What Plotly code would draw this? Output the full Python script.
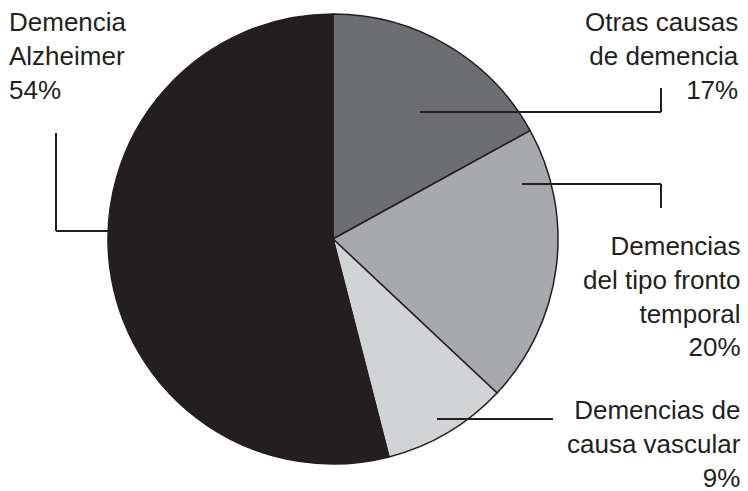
import plotly.graph_objects as go

labels = ["Otras causas<br>de demencia", "Demencias<br>del tipo fronto<br>temporal",
          "Demencias de<br>causa vascular", "Demencia<br>Alzheimer"]
values = [17, 20, 9, 54]
colors = ["#6d6e71", "#a7a9ac", "#d1d3d4", "#231f20"]

W, H = 748, 491
def px(x):
    return x / W
def py(y):
    return 1 - y / H

fig = go.Figure(go.Pie(
    labels=labels, values=values, sort=False, direction="clockwise", rotation=0,
    marker=dict(colors=colors, line=dict(color="#231f20", width=1.5)),
    textinfo="none", hoverinfo="label+percent", showlegend=False,
    domain=dict(x=[px(108), px(558)], y=[py(464), py(14)]),
))

line = dict(color="#231f20", width=2)
segs = [
    # Alzheimer
    (56, 133, 56, 231), (56, 231, 130, 231),
    # Otras
    (420, 112, 661, 112), (661, 112, 661, 88),
    # Fronto
    (522, 184, 661, 184), (661, 184, 661, 208),
    # Vascular
    (437, 419, 553, 419),
]
for x0, y0, x1, y1 in segs:
    fig.add_shape(type="line", xref="paper", yref="paper",
                  x0=px(x0), y0=py(y0), x1=px(x1), y1=py(y1), line=line)

font = dict(family="Liberation Sans, Arial, sans-serif", size=26, color="#231f20")
def pct(v):
    return f"{v}%"
ann = [
    (labels[3] + "<br>" + pct(values[3]), 8, 56, "left"),
    (labels[0] + "<br>" + pct(values[0]), 740, 56, "right"),
    (labels[1] + "<br>" + pct(values[1]), 742, 296, "right"),
    (labels[2] + "<br>" + pct(values[2]), 742, 444, "right"),
]
for text, x, y, al in ann:
    fig.add_annotation(text=text, x=px(x), y=py(y), xref="paper", yref="paper",
                       xanchor=al, yanchor="middle", align=al, showarrow=False,
                       font=font, borderpad=0)

fig.update_layout(width=W, height=H, margin=dict(l=0, r=0, t=0, b=0),
                  paper_bgcolor="white", plot_bgcolor="white")
fig.write_html("out.html")
